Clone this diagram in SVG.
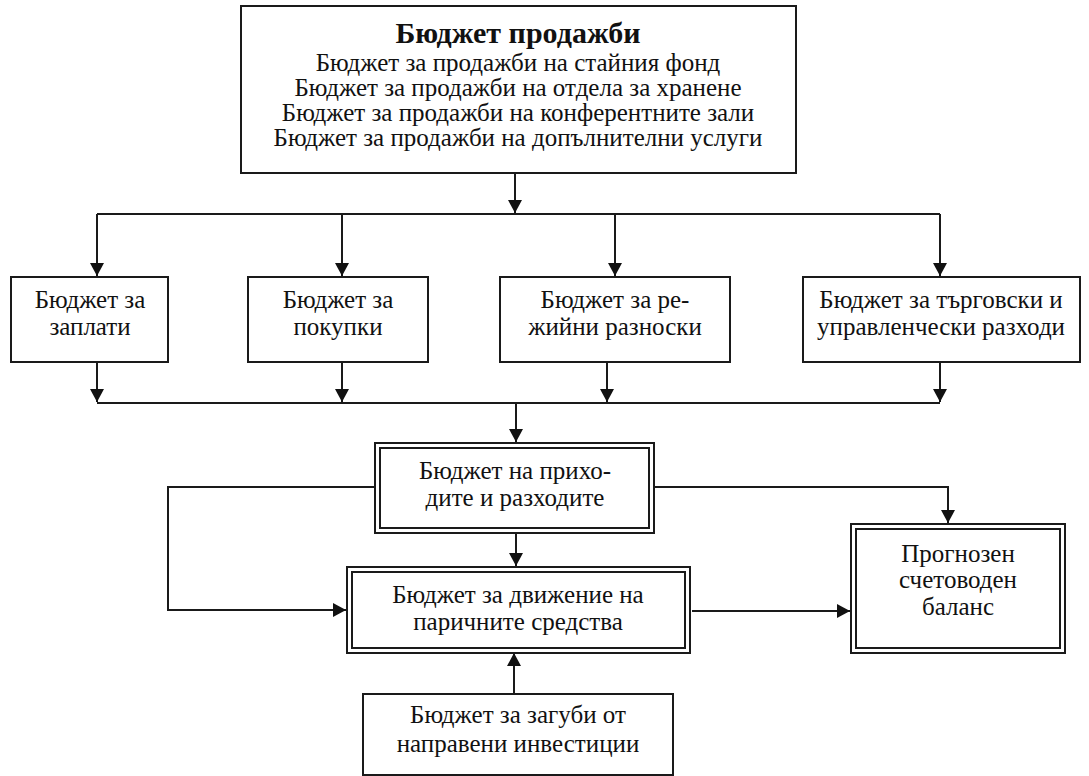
<svg xmlns="http://www.w3.org/2000/svg" width="1089" height="776" viewBox="0 0 1089 776">
<style>
.box{fill:#fff;stroke:#1a1a1a;stroke-width:2}
.in{fill:none;stroke:#1a1a1a;stroke-width:2}
.t{font-family:"Liberation Serif","Times New Roman",serif;font-size:25px;fill:#111;text-anchor:middle}
.title{font-weight:bold;font-size:30px}
.c{fill:none;stroke:#1a1a1a;stroke-width:2}
</style>
<defs>
<marker id="ah" markerUnits="userSpaceOnUse" markerWidth="14" markerHeight="14" refX="13" refY="7" orient="auto">
<path d="M0,0 L13,7 L0,14 Z" fill="#111"/>
</marker>
</defs>
<rect width="1089" height="776" fill="#fff"/>
<g id="connectors">
<path class="c" d="M515,173 V213" marker-end="url(#ah)"/>
<path class="c" d="M97,214 H940"/>
<path class="c" d="M97,214 V276" marker-end="url(#ah)"/>
<path class="c" d="M342,214 V276" marker-end="url(#ah)"/>
<path class="c" d="M615,214 V276" marker-end="url(#ah)"/>
<path class="c" d="M940,214 V276" marker-end="url(#ah)"/>
<path class="c" d="M97,362 V402" marker-end="url(#ah)"/>
<path class="c" d="M342,362 V402" marker-end="url(#ah)"/>
<path class="c" d="M607,362 V402" marker-end="url(#ah)"/>
<path class="c" d="M940,362 V402" marker-end="url(#ah)"/>
<path class="c" d="M97,403 H940"/>
<path class="c" d="M516,403 V442" marker-end="url(#ah)"/>
<path class="c" d="M516,533 V566" marker-end="url(#ah)"/>
<path class="c" d="M375,487 H168 V610 H346" marker-end="url(#ah)"/>
<path class="c" d="M654,487 H948 V523" marker-end="url(#ah)"/>
<path class="c" d="M692,611 H850" marker-end="url(#ah)"/>
<path class="c" d="M514,694 V653" marker-end="url(#ah)"/>
</g>
<g id="sales">
<rect class="box" x="241" y="6" width="555" height="167"/>
<text class="t title" x="518" y="43">Бюджет продажби</text>
<text class="t" x="518" y="71">Бюджет за продажби на стайния фонд</text>
<text class="t" x="518" y="96">Бюджет за продажби на отдела за хранене</text>
<text class="t" x="518" y="121">Бюджет за продажби на конферентните зали</text>
<text class="t" x="518" y="146">Бюджет за продажби на допълнителни услуги</text>
</g>
<g id="wages">
<rect class="box" x="11" y="277" width="157" height="85"/>
<text class="t" x="90" y="308">Бюджет за</text>
<text class="t" x="90" y="335">заплати</text>
</g>
<g id="purchases">
<rect class="box" x="248" y="277" width="180" height="85"/>
<text class="t" x="338" y="308">Бюджет за</text>
<text class="t" x="338" y="335">покупки</text>
</g>
<g id="overheads">
<rect class="box" x="500" y="277" width="230" height="85"/>
<text class="t" x="615" y="308">Бюджет за ре-</text>
<text class="t" x="615" y="335">жийни разноски</text>
</g>
<g id="selling">
<rect class="box" x="803" y="277" width="277" height="85"/>
<text class="t" x="941" y="308">Бюджет за търговски и</text>
<text class="t" x="941" y="335">управленчески разходи</text>
</g>
<g id="income">
<rect class="box" x="375" y="443" width="279" height="90"/>
<rect class="in" x="380" y="448" width="269" height="80"/>
<text class="t" x="515" y="479">Бюджет на прихо-</text>
<text class="t" x="515" y="506">дите и разходите</text>
</g>
<g id="cashflow">
<rect class="box" x="347" y="567" width="343" height="86"/>
<rect class="in" x="352" y="572" width="333" height="76"/>
<text class="t" x="518" y="603">Бюджет за движение на</text>
<text class="t" x="518" y="630">паричните средства</text>
</g>
<g id="balance">
<rect class="box" x="851" y="524" width="214" height="129"/>
<rect class="in" x="856" y="529" width="204" height="119"/>
<text class="t" x="958" y="562">Прогнозен</text>
<text class="t" x="958" y="588">счетоводен</text>
<text class="t" x="958" y="615">баланс</text>
</g>
<g id="losses">
<rect class="box" x="363" y="694" width="310" height="81"/>
<text class="t" x="518" y="723">Бюджет за загуби от</text>
<text class="t" x="518" y="752">направени инвестиции</text>
</g>
</svg>
